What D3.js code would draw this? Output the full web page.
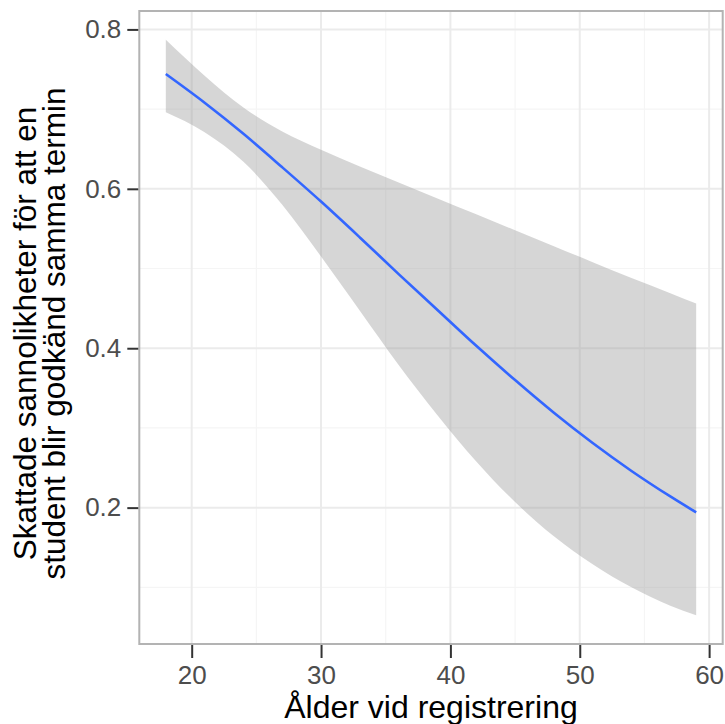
<!DOCTYPE html>
<html>
<head>
<meta charset="utf-8">
<script src="https://cdn.jsdelivr.net/npm/d3@7"></script>
<style>
  html, body { margin: 0; padding: 0; background: #fff; }
  svg { display: block; }
  text { font-family: "Liberation Sans", Arial, Helvetica, sans-serif; }
</style>
</head>
<body>
<svg id="chart" width="725" height="724"></svg>
<script>
// Fitted probability of passing in the same term, by age at registration,
// with its 95% confidence band.
const ages  = [18, 21, 24, 27, 30, 33, 36, 39, 42, 45, 48, 51, 54, 57, 59];
const fit   = [0.744, 0.708, 0.669, 0.627, 0.584, 0.539, 0.493, 0.448, 0.403, 0.360, 0.319, 0.281, 0.246, 0.214, 0.194];
const upper = [0.787, 0.742, 0.702, 0.672, 0.649, 0.628, 0.608, 0.588, 0.568, 0.548, 0.528, 0.508, 0.488, 0.469, 0.456];
const lower = [0.696, 0.671, 0.634, 0.580, 0.515, 0.447, 0.379, 0.316, 0.258, 0.207, 0.164, 0.129, 0.100, 0.077, 0.065];

const xTicks = [20, 30, 40, 50, 60];
const xMinor = [25, 35, 45, 55];
const yTicks = [0.2, 0.4, 0.6, 0.8];
const yMinor = [0.1, 0.3, 0.5, 0.7];

const xTitle = "Ålder vid registrering";
const yTitle = ["Skattade sannolikheter för att en", "student blir godkänd samma termin"];

const W = 725, H = 724;
const margin = { top: 11, right: 2.3, bottom: 80, left: 139.3 };

const svg = d3.select("#chart");

// ggplot-style 5% expansion of the data range
function expand(lo, hi) { const d = (hi - lo) * 0.05; return [lo - d, hi + d]; }

const x = d3.scaleLinear()
  .domain(expand(d3.min(ages), d3.max(ages)))
  .range([margin.left, W - margin.right]);
const y = d3.scaleLinear()
  .domain(expand(d3.min(lower), d3.max(upper)))
  .range([H - margin.bottom, margin.top]);

const [x0, x1] = x.range();
const [y0, y1] = y.range();

// panel background
svg.append("rect")
  .attr("x", x0).attr("y", y1)
  .attr("width", x1 - x0).attr("height", y0 - y1)
  .attr("fill", "#ffffff");

// grid: minor then major
const grid = svg.append("g");
grid.selectAll("line.xminor").data(xMinor).join("line")
  .attr("x1", d => x(d)).attr("x2", d => x(d))
  .attr("y1", y1).attr("y2", y0)
  .attr("stroke", "#f5f5f5").attr("stroke-width", 1.2);
grid.selectAll("line.yminor").data(yMinor.filter(v => v >= y.domain()[0])).join("line")
  .attr("x1", x0).attr("x2", x1)
  .attr("y1", d => y(d)).attr("y2", d => y(d))
  .attr("stroke", "#f5f5f5").attr("stroke-width", 1.2);
grid.selectAll("line.xmajor").data(xTicks).join("line")
  .attr("x1", d => x(d)).attr("x2", d => x(d))
  .attr("y1", y1).attr("y2", y0)
  .attr("stroke", "#ebebeb").attr("stroke-width", 2);
grid.selectAll("line.ymajor").data(yTicks).join("line")
  .attr("x1", x0).attr("x2", x1)
  .attr("y1", d => y(d)).attr("y2", d => y(d))
  .attr("stroke", "#ebebeb").attr("stroke-width", 2);

const rows = ages.map((a, i) => ({ age: a, fit: fit[i], lo: lower[i], hi: upper[i] }));

// confidence band
svg.append("path")
  .datum(rows)
  .attr("d", d3.area()
    .x(d => x(d.age))
    .y0(d => y(d.lo))
    .y1(d => y(d.hi))
    .curve(d3.curveMonotoneX))
  .attr("fill", "#999999")
  .attr("fill-opacity", 0.4);

// fitted curve
svg.append("path")
  .datum(rows)
  .attr("d", d3.line()
    .x(d => x(d.age))
    .y(d => y(d.fit))
    .curve(d3.curveMonotoneX))
  .attr("fill", "none")
  .attr("stroke", "#3366ff")
  .attr("stroke-width", 2.6);

// panel border
svg.append("rect")
  .attr("x", x0).attr("y", y1)
  .attr("width", x1 - x0).attr("height", y0 - y1)
  .attr("fill", "none")
  .attr("stroke", "#b3b3b3")
  .attr("stroke-width", 2);

// axes
const xAxis = d3.axisBottom(x).tickValues(xTicks).tickSize(13).tickPadding(8).tickFormat(d3.format("d"));
const yAxis = d3.axisLeft(y).tickValues(yTicks).tickSize(11).tickPadding(6).tickFormat(d3.format(".1f"));

const gx = svg.append("g").attr("transform", `translate(0,${y0 + 1})`).call(xAxis);
const gy = svg.append("g").attr("transform", `translate(${x0 - 1},0)`).call(yAxis);

[gx, gy].forEach(g => {
  g.select(".domain").remove();
  g.selectAll(".tick line").attr("stroke", "#333333").attr("stroke-width", 2);
  g.selectAll(".tick text")
    .attr("fill", "#4d4d4d")
    .style("font-size", "26px");
});

// axis titles
svg.append("text")
  .attr("x", (x0 + x1) / 2)
  .attr("y", 718)
  .attr("text-anchor", "middle")
  .attr("fill", "#000")
  .style("font-size", "32px")
  .text(xTitle);

const yt = svg.append("g")
  .attr("transform", `translate(0,${(y0 + y1) / 2 + 6}) rotate(-90)`);
yt.selectAll("text").data(yTitle).join("text")
  .attr("x", 0)
  .attr("y", (d, i) => 36 + i * 29)
  .attr("text-anchor", "middle")
  .attr("fill", "#000")
  .style("font-size", "31.5px")
  .text(d => d);
</script>
</body>
</html>
